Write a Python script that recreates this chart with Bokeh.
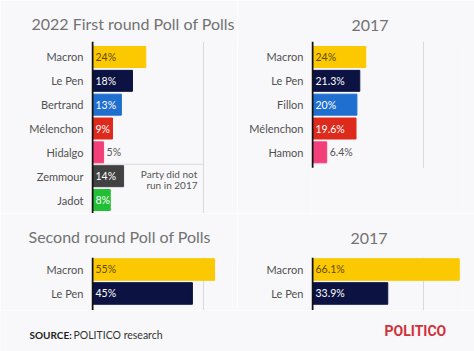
from bokeh.plotting import figure
from bokeh.models import Range1d, FixedTicker, Title, ColumnDataSource
from bokeh.layouts import column, row
from bokeh.embed import file_html
from bokeh.resources import INLINE
from bokeh.core.properties import value

# ---------------- data ----------------
first_names = ["Macron", "Le Pen", "Bertrand", "Mélenchon", "Hidalgo", "Zemmour", "Jadot"]
first_vals = [24, 18, 13, 9, 5, 14, 8]
first_labels = ["24%", "18%", "13%", "9%", "5%", "14%", "8%"]

first17_names = ["Macron", "Le Pen", "Fillon", "Mélenchon", "Hamon"]
first17_vals = [24, 21.3, 20, 19.6, 6.4]
first17_labels = ["24%", "21.3%", "20%", "19.6%", "6.4%"]

second_names = ["Macron", "Le Pen"]
second_vals = [55, 45]
second_labels = ["55%", "45%"]

second17_names = ["Macron", "Le Pen"]
second17_vals = [66.1, 33.9]
second17_labels = ["66.1%", "33.9%"]

titles = ["2022 First round Poll of Polls", "2017", "Second round Poll of Polls", "2017"]
note_text = "Party did not\nrun in 2017"
note_row = 5          # boundary above "Zemmour"
grid_value = 50
source_bold = "SOURCE:"
source_text = "POLITICO research"
brand = "POLITICO"

# ---------------- styles ----------------
BG = "#f8f8fa"
FONT = "Lato"
PX = 2.22
COLORS = {"Macron": "#fcc800", "Le Pen": "#0c1342", "Bertrand": "#1f6fd0",
          "Fillon": "#1f6fd0", "Mélenchon": "#de2a1c", "Hidalgo": "#f23f79",
          "Hamon": "#f23f79", "Zemmour": "#414141", "Jadot": "#20bf35"}


def panel(names, vals, labels, W, H, left, right, top, bottom, rows_total, pad_top,
          line_end, bar_h, title_text, title_offset, title_standoff):
    n = len(names)
    fw = W - left - right
    p = figure(width=W, height=H, output_backend="svg", toolbar_location=None,
               x_range=Range1d(-1 / PX, (fw - 1) / PX),
               y_range=Range1d(rows_total - pad_top, -pad_top),
               min_border_left=left, min_border_right=right,
               min_border_top=top, min_border_bottom=bottom,
               x_axis_location=None, background_fill_color=BG,
               border_fill_color=BG, outline_line_color=None)
    p.grid.visible = False
    p.add_layout(Title(text=title_text, align="left", offset=title_offset,
                       standoff=title_standoff, text_font=FONT,
                       text_font_size="16px", text_font_style="normal",
                       text_color="#727272"), "above")
    # 50% gridline and zero line, only as tall as the rows
    p.segment(x0=[grid_value], x1=[grid_value], y0=[-pad_top], y1=[line_end],
              line_color="#d9d9dc", line_width=1)
    ys = [i + 0.5 for i in range(n)]
    inside = [v >= 8 for v in vals]
    tcol = []
    for nm, ins in zip(names, inside):
        if not ins:
            tcol.append("#555555")
        elif nm == "Macron":
            tcol.append("#5c4b00")
        else:
            tcol.append("#ffffff")
    src = ColumnDataSource(dict(y=ys, v=vals, name=names, lab=labels,
                                color=[COLORS[nm] for nm in names],
                                tx=[0 if ins else v for v, ins in zip(vals, inside)],
                                tcol=tcol))
    p.hbar(y="y", left=0, right="v", height=bar_h, color="color", source=src)
    p.segment(x0=[0], x1=[0], y0=[-pad_top], y1=[line_end],
              line_color="#111111", line_width=2)
    p.text(x="tx", y="y", text="lab", x_offset=3, text_baseline="middle",
           text_align="left", text_color="tcol", text_font=value(FONT),
           text_font_size="10.5px", source=src)
    ax = p.yaxis[0]
    ax.ticker = FixedTicker(ticks=ys)
    ax.major_label_overrides = {y: nm for y, nm in zip(ys, names)}
    ax.axis_line_color = None
    ax.major_tick_line_color = None
    ax.minor_tick_line_color = None
    ax.major_tick_out = 0
    ax.major_tick_in = 0
    ax.major_label_standoff = 8
    ax.major_label_text_font = FONT
    ax.major_label_text_font_size = "11px"
    ax.major_label_text_color = "#505050"
    return p


top_rows = 172 / 23.84   # rows visible in the top frames
p1 = panel(first_names, first_vals, first_labels, 237, 213, 91, 5, 41, 0, top_rows, 0.15,
           top_rows, 0.88, titles[0], -60, 17)
p2 = panel(first17_names, first17_vals, first17_labels, 237, 213, 74, 12, 41, 0, top_rows, 0.15,
           5.15, 0.88, titles[1], 40, 22)
p3 = panel(second_names, second_vals, second_labels, 237, 97, 91, 5, 43, 0, 2.21, 0.0,
           2.21, 0.9, titles[2], -63, 23)
p4 = panel(second17_names, second17_vals, second17_labels, 237, 97, 74, 12, 43, 0, 2.21, 0.0,
           2.21, 0.9, titles[3], 39, 28)

# separator between Hidalgo and Zemmour + note
p1.segment(x0=[0], x1=[grid_value], y0=[note_row], y1=[note_row],
           line_color="#d9d9dc", line_width=1, level="underlay")
p1.text(x=[grid_value], y=[note_row + 0.65], text=[note_text], x_offset=-6,
        text_align="right", text_baseline="middle", text_line_height=0.95,
        text_color="#555555", text_font=value(FONT), text_font_size="10px")

# footer strip
pf = figure(width=474, height=41, output_backend="svg", toolbar_location=None,
            x_range=Range1d(0, 474), y_range=Range1d(41, 0),
            min_border=0, x_axis_location=None, y_axis_location=None,
            background_fill_color=BG, border_fill_color=BG, outline_line_color=None)
pf.grid.visible = False
pf.text(x=[29], y=[24], text=[source_bold], text_font=value(FONT), text_font_size="10px",
        text_font_style="bold", text_color="#222222", text_baseline="alphabetic")
pf.text(x=[73], y=[24], text=[source_text], text_font=value(FONT), text_font_size="10.5px",
        text_color="#333333", text_baseline="alphabetic")
pf.text(x=[384], y=[20], text=[brand], text_font=value("Roboto"),
        text_font_size="14px", text_font_style="bold", text_color="#d2303a",
        text_baseline="alphabetic")

layout = column(row(p1, p2), row(p3, p4), pf)
open("out.html", "w").write(file_html(layout, INLINE))
